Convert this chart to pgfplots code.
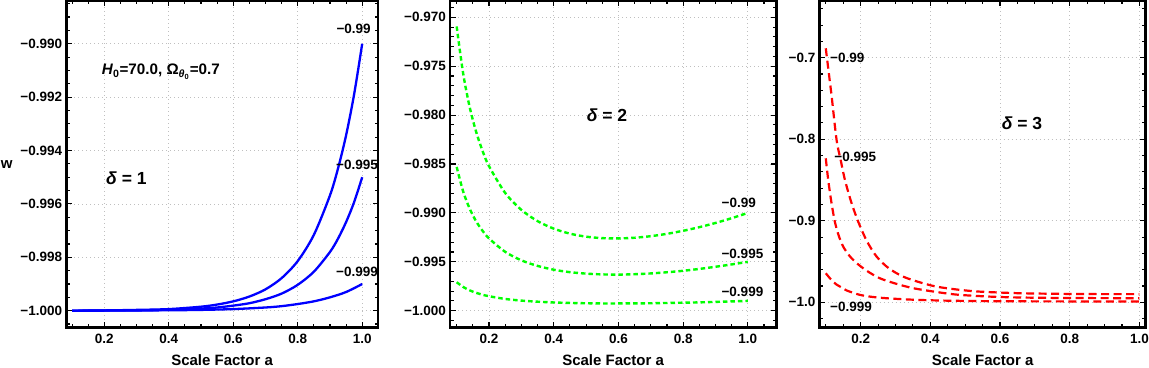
\documentclass[border=0pt]{standalone}
\usepackage{fontspec}
\setmainfont{Liberation Sans}
\usepackage{pgfplots}
\pgfplotsset{compat=1.18}

\newcommand{\tfont}{\fontsize{13.5bp}{16bp}\selectfont\bfseries}
\newcommand{\dfont}{\fontsize{17.5bp}{20bp}\selectfont\bfseries}
\tikzset{lab/.style={font=\tfont}}

\pgfplotsset{
  wpanel/.style={
    scale only axis, anchor=south west, height=326.7bp,
    axis line style={line width=2.5bp},
    tick align=inside, xtick pos=both, ytick pos=both,
    major tick length=5.5bp, minor tick length=3.5bp,
    every tick/.append style={black, line width=1.1bp},
    grid=major, major grid style={black!25, dash pattern=on 1bp off 3bp, line width=0.8bp},
    xtick={0.2,0.4,0.6,0.8,1.0}, xticklabels={0.2,0.4,0.6,0.8,1.0},
    tick label style={font=\tfont},
    xticklabel style={anchor=base, yshift=-15.6bp},
    yticklabel style={anchor=east, inner sep=0pt, xshift=-4bp},
    xlabel={Scale Factor a},
    xlabel style={font=\fontsize{15bp}{18bp}\selectfont\bfseries, at={(rel axis cs:0.5,-0.1172)}, anchor=base},
    /pgf/number format/assume math mode=true,
  },
}

\begin{document}
\begin{tikzpicture}
\path[use as bounding box] (0,0) rectangle (1149bp,368bp);

% delta = 1
\begin{axis}[wpanel, at={(66.3bp,40.3bp)}, width=311.7bp,
  xmin=0.082, xmax=1.049, ymin=-1.000637, ymax=-0.98840,
  minor xtick={0.1,0.15,...,1.05},
  ytick={-1.000,-0.998,-0.996,-0.994,-0.992,-0.990},
  yticklabels={−1.000,−0.998,−0.996,−0.994,−0.992,−0.990},
  minor ytick={-1.0005,-1.0000,...,-0.9885},
  ylabel={w}, ylabel style={font=\fontsize{15bp}{18bp}\selectfont\bfseries, rotate=-90, at={(rel axis cs:-0.1912,0.5)}, anchor=center}]
\addplot[blue, line width=2.3bp, smooth] coordinates {
(0.1,-1.00000) (0.2,-0.99999) (0.3,-0.99997) (0.4,-0.99994) (0.5,-0.99985)
(0.55,-0.99977) (0.6,-0.99965) (0.65,-0.99947) (0.7,-0.99920) (0.75,-0.99878)
(0.8,-0.99814) (0.85,-0.99716) (0.9,-0.99568) (0.925,-0.99467) (0.95,-0.99343)
(0.975,-0.99189) (1.0,-0.99000)};
\addplot[blue, line width=2.3bp, smooth] coordinates {
(0.1,-1.00000) (0.3,-0.99999) (0.4,-0.99996) (0.5,-0.99992) (0.55,-0.99988)
(0.6,-0.99981) (0.65,-0.99972) (0.7,-0.99957) (0.75,-0.99936) (0.8,-0.99903)
(0.85,-0.99854) (0.9,-0.99780) (0.925,-0.99730) (0.95,-0.99668) (0.975,-0.99593)
(1.0,-0.99500)};
\addplot[blue, line width=2.3bp, smooth] coordinates {
(0.1,-1.00000) (0.3,-0.99999) (0.4,-0.999985) (0.5,-0.99997) (0.6,-0.99994)
(0.7,-0.99988) (0.75,-0.99983) (0.8,-0.99975) (0.85,-0.99965) (0.9,-0.99950)
(0.95,-0.99930) (1.0,-0.99900)};
\node[lab] at (axis cs:0.9733,-0.98944) {−0.99};
\node[lab] at (axis cs:0.984,-0.99454) {−0.995};
\node[lab] at (axis cs:0.984,-0.99854) {−0.999};
\node[anchor=base west, inner sep=0pt, font=\fontsize{15.2bp}{18bp}\selectfont\bfseries] at (axis cs:0.192,-0.99117)
  {\textit{H}\textsubscript{0}=70.0, Ω\textsubscript{\textit{θ}\textsubscript{0}}=0.7};
\node[anchor=base west, inner sep=0pt, font=\dfont] at (axis cs:0.2053,-0.99527) {\textit{δ} = 1};
\end{axis}

% delta = 2
\begin{axis}[wpanel, at={(450bp,40.3bp)}, width=326.3bp,
  xmin=0.0794, xmax=1.088, ymin=-1.00174, ymax=-0.96833,
  minor xtick={0.1,0.15,...,1.05},
  ytick={-1.000,-0.995,-0.990,-0.985,-0.980,-0.975,-0.970},
  yticklabels={−1.000,−0.995,−0.990,−0.985,−0.980,−0.975,−0.970},
  minor ytick={-1.001,-1.000,...,-0.969}]
\addplot[green, line width=2.4bp, dash pattern=on 4.5bp off 3bp, smooth] coordinates {
(0.1,-0.97093) (0.12,-0.97573) (0.14,-0.97915) (0.16,-0.98169) (0.18,-0.98366)
(0.2,-0.98522) (0.25,-0.98796) (0.3,-0.98969) (0.35,-0.99084) (0.4,-0.99161)
(0.45,-0.99212) (0.5,-0.99243) (0.55,-0.99258) (0.6,-0.99261) (0.65,-0.99254)
(0.7,-0.99238) (0.75,-0.99214) (0.8,-0.99183) (0.85,-0.99146) (0.9,-0.99103)
(0.95,-0.99054) (1.0,-0.99000)};
\addplot[green, line width=2.4bp, dash pattern=on 4.5bp off 3bp, smooth] coordinates {
(0.1,-0.98530) (0.12,-0.98780) (0.14,-0.98955) (0.16,-0.99085) (0.18,-0.99183)
(0.2,-0.99261) (0.25,-0.99398) (0.3,-0.99485) (0.35,-0.99542) (0.4,-0.99581)
(0.45,-0.99606) (0.5,-0.99621) (0.55,-0.99629) (0.6,-0.99631) (0.65,-0.99627)
(0.7,-0.99619) (0.75,-0.99607) (0.8,-0.99592) (0.85,-0.99573) (0.9,-0.99551)
(0.95,-0.99527) (1.0,-0.99500)};
\addplot[green, line width=2.4bp, dash pattern=on 4.5bp off 3bp, smooth] coordinates {
(0.1,-0.99709) (0.12,-0.99757) (0.14,-0.99792) (0.16,-0.99817) (0.18,-0.99837)
(0.2,-0.99852) (0.25,-0.99880) (0.3,-0.99897) (0.35,-0.99908) (0.4,-0.99916)
(0.45,-0.99921) (0.5,-0.99924) (0.55,-0.99926) (0.6,-0.99926) (0.65,-0.99925)
(0.7,-0.99924) (0.75,-0.99921) (0.8,-0.99918) (0.85,-0.99915) (0.9,-0.99910)
(0.95,-0.99905) (1.0,-0.99900)};
\node[lab] at (axis cs:0.9718,-0.98902) {−0.99};
\node[lab] at (axis cs:0.9833,-0.99414) {−0.995};
\node[lab] at (axis cs:0.9833,-0.99812) {−0.999};
\node[anchor=base west, inner sep=0pt, font=\dfont] at (axis cs:0.5015,-0.98068) {\textit{δ} = 2};
\end{axis}

% delta = 3
\begin{axis}[wpanel, at={(819.5bp,40.3bp)}, width=326.2bp,
  xmin=0.082, xmax=1.018, ymin=-1.03114, ymax=-0.63048,
  minor xtick={0.1,0.15,...,1.0},
  ytick={-1.0,-0.9,-0.8,-0.7},
  yticklabels={−1.0,−0.9,−0.8,−0.7},
  minor ytick={-1.02,-1.00,...,-0.64}]
\addplot[red, line width=2.2bp, dash pattern=on 8bp off 4.5bp, smooth] coordinates {
(0.1,-0.6885) (0.11,-0.7234) (0.117,-0.7478) (0.131,-0.8009) (0.143,-0.8260)
(0.155,-0.8500) (0.173,-0.8770) (0.193,-0.9011) (0.218,-0.9250) (0.246,-0.9440)
(0.28,-0.9580) (0.322,-0.9685) (0.37,-0.9755) (0.418,-0.9808) (0.48,-0.9845)
(0.542,-0.9869) (0.65,-0.9888) (0.75,-0.9895) (0.85,-0.9899) (1.0,-0.9900)};
\addplot[red, line width=2.2bp, dash pattern=on 8bp off 4.5bp, smooth] coordinates {
(0.1,-0.8234) (0.107,-0.8500) (0.116,-0.8770) (0.126,-0.9011) (0.137,-0.9180)
(0.15,-0.9317) (0.168,-0.9430) (0.189,-0.9521) (0.22,-0.9620) (0.255,-0.9705)
(0.3,-0.9770) (0.351,-0.9827) (0.42,-0.9875) (0.485,-0.9909) (0.6,-0.9935)
(0.75,-0.9946) (1.0,-0.9950)};
\addplot[red, line width=2.2bp, dash pattern=on 8bp off 4.5bp, smooth] coordinates {
(0.1,-0.9644) (0.115,-0.9720) (0.13,-0.9780) (0.141,-0.9808) (0.16,-0.9855)
(0.18,-0.9885) (0.198,-0.9909) (0.23,-0.9932) (0.274,-0.9950) (0.35,-0.9968)
(0.45,-0.9980) (0.6,-0.9987) (0.8,-0.9989) (1.0,-0.9990)};
\node[lab, anchor=west, inner sep=0pt] at (axis cs:0.1119,-0.7007) {−0.99};
\node[lab, anchor=west, inner sep=0pt] at (axis cs:0.1242,-0.8214) {−0.995};
\node[lab, anchor=west, inner sep=0pt] at (axis cs:0.1119,-1.0053) {−0.999};
\node[anchor=base west, inner sep=0pt, font=\dfont] at (axis cs:0.6046,-0.7886) {\textit{δ} = 3};
\end{axis}
\end{tikzpicture}
\end{document}
